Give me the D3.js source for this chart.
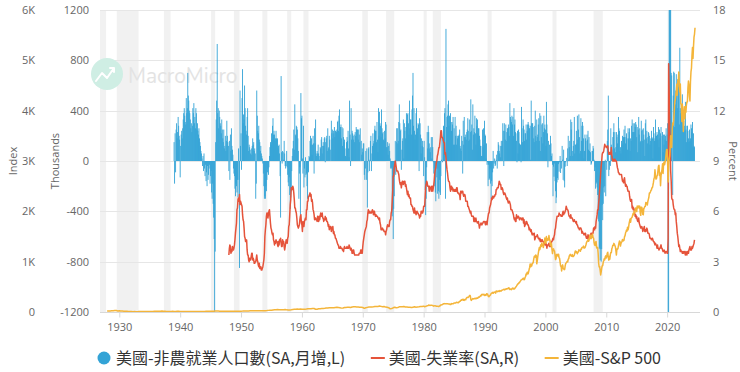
<!DOCTYPE html>
<html><head><meta charset="utf-8">
<script src="https://cdn.jsdelivr.net/npm/d3@7"></script>
<style>body{margin:0;background:#fff}svg{display:block}</style>
</head><body><svg id="c" width="740" height="372"></svg>
<script>
// ---------------- DATA ----------------
const payrollStart = 1939; // monthly, thousands, SA, month-over-month change
const payrollChange = [
150,-180,220,-90,250,300,180,230,350,280,200,170,
-130,120,210,240,180,260,330,380,420,360,310,290,
500,380,420,700,520,480,400,380,330,260,300,230,
280,420,380,460,300,350,260,420,380,250,300,240,
210,260,180,150,120,80,60,20,-40,40,-80,60,
-60,-120,-30,-160,-90,-200,-40,-150,-110,-60,-30,-180,
-120,-80,-250,-300,-180,-340,-450,-620,-1959,-720,150,330,
480,930,380,420,260,400,350,300,280,220,330,250,
180,150,250,100,120,200,80,160,320,200,150,120,
-80,160,-150,210,80,260,120,90,50,-60,-100,-120,
-220,-280,-180,-200,-250,-150,-290,100,-150,-850,560,120,
220,-70,500,730,300,370,330,600,420,280,240,210,
350,420,200,80,130,110,90,60,50,100,120,180,
130,150,80,100,60,-300,-180,560,360,240,220,280,
170,150,80,120,60,40,20,-20,-100,-200,-300,-280,
-300,-200,-240,-150,-90,-60,-110,-50,40,110,150,130,
220,170,280,340,210,240,210,160,180,240,180,170,
180,100,120,130,60,-120,-450,675,70,-20,80,70,
10,160,60,-40,-60,-40,80,-50,-110,-170,-200,-130,
-270,-380,-290,-240,-80,40,100,160,250,90,450,210,
200,280,270,250,180,80,-300,-100,-50,-450,540,340,
360,20,-100,280,-210,-60,-130,30,-110,-100,-200,-300,
-80,-90,40,30,160,200,130,180,50,130,200,140,
-100,260,140,330,60,40,80,60,130,60,40,10,
110,100,170,190,60,120,150,120,180,190,-10,150,
180,200,80,260,100,110,200,170,90,0,320,220,
250,180,240,220,270,190,240,240,230,250,310,320,
240,360,410,230,270,290,180,270,120,260,190,150,
170,100,40,30,150,190,160,240,100,30,480,210,
-40,420,170,240,220,200,170,210,150,230,200,270,
250,250,250,170,250,210,150,260,0,160,50,100,
70,140,140,-110,-150,-60,80,-150,100,-370,-90,100,
110,-80,10,160,200,-80,60,120,220,140,160,250,
280,240,240,150,310,170,70,420,200,390,300,280,
190,410,260,220,230,170,160,240,180,310,290,110,
110,150,50,120,140,80,20,-60,-50,-60,-440,-390,
-620,-380,-280,-100,160,-110,150,260,260,140,160,310,
450,300,240,250,-70,90,160,180,330,20,300,240,
180,270,380,320,370,380,300,210,480,260,330,330,
210,410,520,700,280,420,240,170,210,380,420,230,
260,300,290,-80,340,300,210,60,180,120,160,110,
-120,160,30,-230,-430,-300,-50,230,100,280,230,140,
100,70,110,190,20,190,110,-10,-100,-60,-200,-250,
-320,-20,-130,-260,-60,-240,-300,-150,-250,-270,-120,10,
200,-10,170,280,270,380,420,-300,1050,270,350,360,
450,480,280,360,350,380,310,240,310,290,350,130,
260,130,350,200,280,130,200,180,200,200,210,250,
120,100,80,200,160,-100,320,130,350,190,190,210,
170,230,250,340,240,160,330,170,230,490,240,290,
90,450,210,260,230,360,220,130,340,280,330,220,
260,260,200,170,120,120,40,40,250,110,260,130,
320,210,200,20,140,-30,-10,-200,-30,-150,-140,-60,
-180,-300,-160,-200,-90,80,-60,-20,20,-40,-30,10,
50,-60,80,150,130,80,60,120,30,160,120,160,
300,240,-40,300,240,170,290,160,230,260,260,290,
270,200,460,350,330,310,360,290,350,200,420,290,
330,230,220,160,-10,240,60,250,230,140,130,130,
-10,430,260,150,330,280,250,160,220,220,290,170,
240,290,310,290,260,260,280,10,480,300,300,300,
270,180,150,280,400,200,160,330,190,210,290,340,
160,380,80,360,190,290,300,140,230,360,260,290,
250,120,470,290,220,-50,160,0,130,0,200,140,
40,60,-30,-280,-45,-125,-20,-160,-240,-335,-290,-170,
-135,-150,-25,-85,-10,40,-95,-10,-60,120,10,-150,
90,-160,-210,-45,-10,0,25,-40,100,200,10,110,
160,40,330,250,310,80,40,120,160,350,60,130,
130,240,140,360,170,250,370,190,60,80,340,160,
280,310,280,180,20,80,210,180,160,0,210,170,
240,90,190,80,140,70,-30,-20,80,80,120,100,
10,-80,-50,-220,-180,-170,-210,-270,-460,-480,-700,-690,
-790,-700,-800,-700,-350,-470,-340,-210,-250,-200,10,-280,
-10,-70,160,250,520,-120,-70,-30,-40,260,130,90,
40,190,230,300,100,230,70,110,230,190,140,210,
350,260,240,80,110,60,160,130,200,140,190,250,
190,280,140,190,220,180,90,260,180,230,260,80,
180,160,280,330,230,300,230,230,300,270,310,290,
190,270,70,250,350,210,260,150,160,320,240,250,
160,260,210,170,40,300,330,180,240,140,190,230,
220,200,130,160,180,240,190,180,20,270,220,160,
180,330,200,200,230,210,170,270,110,250,180,220,
270,0,200,230,70,210,130,210,170,200,260,160,
210,300,-1400,-20500,2800,4800,1700,1600,700,680,260,-270,
520,710,700,270,450,560,690,520,420,650,650,590,
290,900,420,380,340,370,530,330,330,320,280,240,
470,250,150,280,280,240,180,150,250,160,180,290,
260,230,310,110,220,120,110
];

const unrateStart = 1948; // monthly, percent, SA
const unemploymentRate = [
3.4,3.8,4.0,3.9,3.5,3.6,3.6,3.9,3.8,3.7,3.8,4.0,
4.3,4.7,5.0,5.3,6.1,6.2,6.7,6.8,6.6,7.0,6.4,6.6,
6.5,6.4,6.3,5.8,5.5,5.4,5.0,4.5,4.4,4.2,4.2,4.3,
3.7,3.4,3.4,3.1,3.0,3.2,3.1,3.1,3.3,3.5,3.5,3.1,
3.2,3.1,2.9,2.9,3.0,3.0,3.2,3.4,3.1,3.0,2.8,2.7,
2.9,2.6,2.6,2.7,2.5,2.5,2.6,2.7,2.9,3.1,3.5,4.5,
4.9,5.2,5.7,5.9,5.9,5.6,5.8,6.0,6.1,5.7,5.3,5.0,
4.9,4.7,4.6,4.7,4.3,4.2,4.0,4.2,4.1,4.3,4.2,4.2,
4.0,3.9,4.2,4.0,4.3,4.3,4.4,4.1,3.9,3.9,4.3,4.2,
4.2,3.9,3.7,3.9,4.1,4.3,4.2,4.1,4.4,4.5,5.1,5.2,
5.8,6.4,6.7,7.4,7.4,7.3,7.5,7.4,7.1,6.7,6.2,6.2,
6.0,5.9,5.6,5.2,5.1,5.0,5.1,5.2,5.5,5.7,5.8,5.3,
5.2,4.8,5.4,5.2,5.1,5.4,5.5,5.6,5.5,6.1,6.1,6.6,
6.6,6.9,6.9,7.0,7.1,6.9,7.0,6.6,6.7,6.5,6.1,6.0,
5.8,5.5,5.6,5.6,5.5,5.5,5.4,5.7,5.6,5.4,5.7,5.5,
5.7,5.9,5.7,5.7,5.9,5.6,5.6,5.4,5.5,5.5,5.7,5.5,
5.6,5.4,5.4,5.3,5.1,5.2,4.9,5.0,5.1,5.1,4.8,5.0,
4.9,5.1,4.7,4.8,4.6,4.6,4.4,4.4,4.3,4.2,4.1,4.0,
4.0,3.8,3.8,3.8,3.9,3.8,3.8,3.8,3.7,3.7,3.6,3.8,
3.9,3.8,3.8,3.8,3.8,3.9,3.8,3.8,3.8,4.0,3.9,3.8,
3.7,3.8,3.7,3.5,3.5,3.7,3.7,3.5,3.4,3.4,3.4,3.4,
3.4,3.4,3.4,3.4,3.4,3.5,3.5,3.5,3.7,3.7,3.5,3.5,
3.9,4.2,4.4,4.6,4.8,4.9,5.0,5.1,5.4,5.5,5.9,6.1,
5.9,5.9,6.0,5.9,5.9,5.9,6.0,6.1,6.0,5.8,6.0,6.0,
5.8,5.7,5.8,5.7,5.7,5.7,5.6,5.6,5.5,5.6,5.3,5.2,
4.9,5.0,4.9,5.0,4.9,4.9,4.8,4.8,4.8,4.6,4.8,4.9,
5.1,5.2,5.1,5.1,5.1,5.4,5.5,5.5,5.9,6.0,6.6,7.2,
8.1,8.1,8.6,8.8,9.0,8.8,8.6,8.4,8.4,8.4,8.3,8.2,
7.9,7.7,7.6,7.7,7.4,7.6,7.8,7.8,7.6,7.7,7.8,7.8,
7.5,7.6,7.4,7.2,7.0,7.2,6.9,7.0,6.8,6.8,6.8,6.4,
6.4,6.3,6.3,6.1,6.0,5.9,6.2,5.9,6.0,5.8,5.9,6.0,
5.9,5.9,5.8,5.8,5.6,5.7,5.7,6.0,5.9,6.0,5.9,6.0,
6.3,6.3,6.3,6.9,7.5,7.6,7.8,7.7,7.5,7.5,7.5,7.2,
7.5,7.4,7.4,7.2,7.5,7.5,7.2,7.4,7.6,7.9,8.3,8.5,
8.6,8.9,9.0,9.3,9.4,9.6,9.8,9.8,10.1,10.4,10.8,10.8,
10.4,10.4,10.3,10.2,10.1,10.1,9.4,9.5,9.2,8.8,8.5,8.3,
8.0,7.8,7.8,7.7,7.4,7.2,7.5,7.5,7.3,7.4,7.2,7.3,
7.3,7.2,7.2,7.3,7.2,7.4,7.4,7.1,7.1,7.1,7.0,7.0,
6.7,7.2,7.2,7.1,7.2,7.2,7.0,6.9,7.0,7.0,6.9,6.6,
6.6,6.6,6.6,6.3,6.3,6.2,6.1,6.0,5.9,6.0,5.8,5.7,
5.7,5.7,5.7,5.4,5.6,5.4,5.4,5.6,5.4,5.4,5.3,5.3,
5.4,5.2,5.0,5.2,5.2,5.3,5.2,5.2,5.3,5.3,5.4,5.4,
5.4,5.3,5.2,5.4,5.4,5.2,5.5,5.7,5.9,5.9,6.2,6.3,
6.4,6.6,6.8,6.7,6.9,6.9,6.8,6.9,6.9,7.0,7.0,7.3,
7.3,7.4,7.4,7.4,7.6,7.8,7.7,7.6,7.6,7.3,7.4,7.4,
7.3,7.1,7.0,7.1,7.1,7.0,6.9,6.8,6.7,6.8,6.6,6.5,
6.6,6.6,6.5,6.4,6.1,6.1,6.1,6.0,5.9,5.8,5.6,5.5,
5.6,5.4,5.4,5.8,5.6,5.6,5.7,5.7,5.6,5.5,5.6,5.6,
5.6,5.5,5.5,5.6,5.6,5.3,5.5,5.1,5.2,5.2,5.4,5.4,
5.3,5.2,5.2,5.1,4.9,5.0,4.9,4.8,4.9,4.7,4.6,4.7,
4.6,4.6,4.7,4.3,4.4,4.5,4.5,4.5,4.6,4.5,4.4,4.4,
4.3,4.4,4.2,4.3,4.2,4.3,4.3,4.2,4.2,4.1,4.1,4.0,
4.0,4.1,4.0,3.8,4.0,4.0,4.0,4.1,3.9,3.9,3.9,3.9,
4.2,4.2,4.3,4.4,4.3,4.5,4.6,4.9,5.0,5.3,5.5,5.7,
5.7,5.7,5.7,5.9,5.8,5.8,5.8,5.7,5.7,5.7,5.9,6.0,
5.8,5.9,5.9,6.0,6.1,6.3,6.2,6.1,6.1,6.0,5.8,5.7,
5.7,5.6,5.8,5.6,5.6,5.6,5.5,5.4,5.4,5.5,5.4,5.4,
5.3,5.4,5.2,5.2,5.1,5.0,5.0,4.9,5.0,5.0,5.0,4.9,
4.7,4.8,4.7,4.7,4.6,4.6,4.7,4.7,4.5,4.4,4.5,4.4,
4.6,4.5,4.4,4.5,4.4,4.6,4.7,4.6,4.7,4.7,4.7,5.0,
5.0,4.9,5.1,5.0,5.4,5.6,5.8,6.1,6.1,6.5,6.8,7.3,
7.8,8.3,8.7,9.0,9.4,9.5,9.5,9.6,9.8,10.0,9.9,9.9,
9.8,9.8,9.9,9.9,9.6,9.4,9.4,9.5,9.5,9.4,9.8,9.3,
9.1,9.0,9.0,9.1,9.0,9.1,9.0,9.0,9.0,8.8,8.6,8.5,
8.3,8.3,8.2,8.2,8.2,8.2,8.2,8.0,7.8,7.8,7.7,7.9,
8.0,7.7,7.5,7.6,7.5,7.5,7.3,7.2,7.2,7.2,6.9,6.7,
6.6,6.7,6.7,6.2,6.3,6.1,6.2,6.1,5.9,5.7,5.8,5.6,
5.7,5.5,5.4,5.4,5.6,5.3,5.2,5.1,5.0,5.0,5.1,5.0,
4.8,4.9,5.0,5.1,4.8,4.9,4.8,4.9,5.0,4.9,4.7,4.7,
4.7,4.6,4.4,4.4,4.4,4.3,4.3,4.4,4.3,4.2,4.2,4.1,
4.0,4.1,4.0,4.0,3.8,4.0,3.8,3.8,3.7,3.8,3.8,3.9,
4.0,3.8,3.8,3.7,3.6,3.6,3.7,3.6,3.5,3.6,3.6,3.6,
3.5,3.5,4.4,14.8,13.2,11.0,10.2,8.4,7.8,6.8,6.7,6.7,
6.4,6.2,6.1,6.1,5.8,5.9,5.4,5.1,4.7,4.5,4.2,3.9,
4.0,3.8,3.6,3.7,3.6,3.6,3.5,3.6,3.5,3.6,3.6,3.5,
3.4,3.6,3.5,3.4,3.6,3.6,3.5,3.7,3.8,3.9,3.7,3.7,
3.7,3.9,3.8,3.9,4.0,4.1,4.3
];

const spxQuarterlyStart = 1928; // quarterly index level 1928-1979
const spxQuarterly = [
19.3,20.0,21.9,24.4, 25.0,29.0,31.0,21.5, 25.0,21.0,19.0,15.3, 17.0,14.8,9.7,8.1,
8.3,4.4,8.1,6.9, 5.9,10.9,9.8,10.1, 10.7,9.9,9.1,9.5, 8.4,10.2,11.6,13.4,
15.0,14.7,16.1,17.2, 18.1,14.9,13.8,10.6, 9.0,11.6,12.2,13.2, 11.0,10.9,13.0,12.5,
12.2,9.9,10.7,10.6, 9.9,10.2,10.0,8.7, 8.2,8.4,8.9,9.8, 11.6,12.4,12.0,11.5,
12.2,13.3,12.8,13.3, 14.3,15.1,16.4,17.4, 17.8,18.4,14.9,15.3, 15.2,15.0,15.1,15.3,
15.1,16.7,15.5,15.2, 15.1,14.2,15.5,16.8, 17.3,17.7,19.5,20.4, 21.5,21.0,23.3,23.8,
24.4,25.0,25.0,26.6, 25.3,24.1,23.4,24.8, 26.9,29.2,32.3,36.0, 36.6,41.0,43.7,45.5,
48.5,46.9,45.4,46.7, 44.1,47.4,42.4,40.0, 42.1,45.2,50.1,55.2, 55.4,58.5,56.9,59.9,
55.3,56.9,53.5,58.1, 65.1,64.6,66.7,71.6, 69.6,54.8,56.3,63.1, 66.6,69.4,71.7,75.0,
79.0,81.7,84.2,84.8, 86.2,84.1,90.0,92.4, 89.2,84.7,77.0,80.3, 90.2,90.6,96.7,96.5,
90.2,99.6,102.7,103.9, 101.5,97.7,93.1,92.1, 89.6,72.7,84.3,92.2, 100.3,99.0,98.3,102.1,
107.2,107.1,110.6,118.1, 111.5,104.3,108.4,97.6, 94.0,86.0,63.5,68.6, 83.4,95.2,83.9,90.2,
102.8,104.3,105.2,107.5, 98.4,100.5,96.5,95.1, 89.2,95.5,102.5,96.1, 101.6,102.9,109.3,107.9
];

const spxMonthlyStart = 1980; // monthly index level 1980-2024
const spxMonthly = [
114.2,113.7,102.1,106.3,111.2,114.2,121.7,122.4,125.5,127.5,140.5,135.8,
129.6,131.3,136.0,132.8,132.6,131.2,130.9,122.8,116.2,121.9,126.4,122.6,
120.4,113.1,112.0,116.4,111.9,109.6,107.1,119.5,120.4,133.7,138.5,140.6,
145.3,148.1,153.0,164.4,162.4,168.1,162.6,164.4,166.1,163.6,166.4,164.9,
163.4,157.1,159.2,160.1,150.6,153.2,150.7,166.7,166.1,166.1,163.6,167.2,
179.6,181.2,180.7,179.8,189.6,191.9,190.9,188.6,182.1,189.8,202.2,211.3,
211.8,226.9,238.9,235.5,247.4,250.8,236.1,252.9,231.3,244.0,249.2,242.2,
274.1,284.2,291.7,288.4,290.1,304.0,318.7,329.8,321.8,251.8,230.3,247.1,
257.1,267.8,258.9,261.3,262.2,273.5,272.0,261.5,271.9,279.0,273.7,277.7,
297.5,288.9,294.9,309.6,320.5,318.0,346.1,351.5,349.2,340.4,346.0,353.4,
329.1,331.9,339.9,330.8,361.2,358.0,356.2,322.6,306.1,304.0,322.2,330.2,
343.9,367.1,375.2,375.3,389.8,371.2,387.8,395.4,387.9,392.5,375.2,417.1,
408.8,412.7,403.7,415.0,415.4,408.1,424.2,414.0,417.8,418.7,431.4,435.7,
438.8,443.4,451.7,440.2,450.2,450.5,448.1,463.6,458.9,467.8,461.8,466.5,
481.6,467.1,445.8,450.9,456.5,444.3,458.3,475.5,462.7,472.4,453.7,459.3,
470.4,487.4,500.7,514.7,533.4,544.8,562.1,561.9,584.4,581.5,605.4,615.9,
636.0,640.4,645.5,654.2,669.1,670.6,640.0,652.0,687.3,705.3,757.0,740.7,
786.2,790.8,757.1,801.3,848.3,885.1,954.3,899.5,947.3,914.6,955.4,970.4,
980.3,1049.3,1101.8,1111.8,1090.8,1133.8,1120.7,957.3,1017.0,1098.7,1163.6,1229.2,
1279.6,1238.3,1286.4,1335.2,1301.8,1372.7,1328.7,1320.4,1282.7,1362.9,1388.9,1469.3,
1394.5,1366.4,1498.6,1452.4,1420.6,1454.6,1430.8,1517.7,1436.5,1429.4,1315.2,1320.3,
1366.0,1239.9,1160.3,1249.5,1255.8,1224.4,1211.2,1133.6,1040.9,1059.8,1139.5,1148.1,
1130.2,1106.7,1147.4,1076.9,1067.1,989.8,911.6,916.1,815.3,885.8,936.3,879.8,
855.7,841.2,848.2,916.9,963.6,974.5,990.3,1008.0,996.0,1050.7,1058.2,1111.9,
1131.1,1144.9,1126.2,1107.3,1120.7,1140.8,1101.7,1104.2,1114.6,1130.2,1173.8,1211.9,
1181.3,1203.6,1180.6,1156.9,1191.5,1191.3,1234.2,1220.3,1228.8,1207.0,1249.5,1248.3,
1280.1,1280.7,1294.8,1310.6,1270.1,1270.2,1276.7,1303.8,1335.9,1377.9,1400.6,1418.3,
1438.2,1406.8,1420.9,1482.4,1530.6,1503.4,1455.3,1474.0,1526.8,1549.4,1481.1,1468.4,
1378.6,1330.6,1322.7,1385.6,1400.4,1280.0,1267.4,1282.8,1166.4,968.8,896.2,903.3,
825.9,735.1,797.9,872.8,919.1,919.3,987.5,1020.6,1057.1,1036.2,1095.6,1115.1,
1073.9,1104.5,1169.4,1186.7,1089.4,1030.7,1101.6,1049.3,1141.2,1183.3,1180.6,1257.6,
1286.1,1327.2,1325.8,1363.6,1345.2,1320.6,1292.3,1218.9,1131.4,1253.3,1247.0,1257.6,
1312.4,1365.7,1408.5,1397.9,1310.3,1362.2,1379.3,1406.6,1440.7,1412.2,1416.2,1426.2,
1498.1,1514.7,1569.2,1597.6,1630.7,1606.3,1685.7,1633.0,1681.6,1756.5,1805.8,1848.4,
1782.6,1859.5,1872.3,1884.0,1923.6,1960.2,1930.7,2003.4,1972.3,2018.1,2067.6,2058.9,
1995.0,2104.5,2067.9,2085.5,2107.4,2063.1,2103.8,1972.2,1920.0,2079.4,2080.4,2043.9,
1940.2,1932.2,2059.7,2065.3,2097.0,2098.9,2173.6,2171.0,2168.3,2126.2,2198.8,2238.8,
2278.9,2363.6,2362.7,2384.2,2411.8,2423.4,2470.3,2471.7,2519.4,2575.3,2647.6,2673.6,
2823.8,2713.8,2640.9,2648.1,2705.3,2718.4,2816.3,2901.5,2914.0,2711.7,2760.2,2506.9,
2704.1,2784.5,2834.4,2945.8,2752.1,2941.8,2980.4,2926.5,2976.7,3037.6,3141.0,3230.8,
3225.5,2954.2,2584.6,2912.4,3044.3,3100.3,3271.1,3500.3,3363.0,3270.0,3621.6,3756.1,
3714.2,3811.2,3972.9,4181.2,4204.1,4297.5,4395.3,4522.7,4307.5,4605.4,4567.0,4766.2,
4515.6,4373.9,4530.4,4131.9,4132.2,3785.4,4130.3,3955.0,3585.6,3872.0,4080.1,3839.5,
4076.6,3970.2,4109.3,4169.5,4179.8,4450.4,4589.0,4507.7,4288.1,4193.8,4567.8,4769.8,
4845.7,5096.3,5254.4,5035.7,5277.5,5460.5,5522.3,5648.4
];

// NBER recessions [start, end] in decimal years
const recessionStart = [1926.75,1929.58,1937.33,1945.08,1948.83,1953.5,1957.58,1960.25,1969.92,1973.83,1980.0,1981.5,1990.5,2001.17,2007.92,2020.08];
const recessionEnd   = [1927.83,1933.17,1938.42,1945.75,1949.75,1954.33,1958.25,1961.08,1970.83,1975.17,1980.5,1982.83,1991.17,2001.83,2009.42,2020.25];

const xTicks = [1930,1940,1950,1960,1970,1980,1990,2000,2010,2020];
const thousandsTicks = [-1200,-800,-400,0,400,800,1200];
const indexTicks = [0,1000,2000,3000,4000,5000,6000];
const percentTicks = [0,3,6,9,12,15,18];
const legendLabels = ["美國-非農就業人口數(SA,月增,L)","美國-失業率(SA,R)","美國-S&P 500"];

// ---------------- CHART ----------------
const colors = {blue:"#33a3d6", red:"#e5533a", yellow:"#f4b53a"};
const svg = d3.select("#c");
const P = {l:100, r:700, t:10, b:312};
const x = d3.scaleLinear().domain([1926.83, 2025.4]).range([P.l, P.r]);
const yK = d3.scaleLinear().domain([-1200,1200]).range([P.b, P.t]);
const yIdx = d3.scaleLinear().domain([0,6000]).range([P.b, P.t]);
const yPct = d3.scaleLinear().domain([0,18]).range([P.b, P.t]);
const font = "'Open Sans','Noto Sans',sans-serif";

svg.append("defs").append("clipPath").attr("id","clip")
  .append("rect").attr("x",P.l).attr("y",P.t).attr("width",P.r-P.l).attr("height",P.b-P.t);

// recession bands
const rec = recessionStart.map((s,i)=>[s, recessionEnd[i]]);
svg.append("g").attr("clip-path","url(#clip)").selectAll("rect").data(rec).join("rect")
  .attr("x", d=>x(d[0])).attr("width", d=>x(d[1])-x(d[0]))
  .attr("y", P.t).attr("height", P.b-P.t).attr("fill","#f1f1f1");

// gridlines
svg.append("g").selectAll("line").data(thousandsTicks.slice(1)).join("line")
  .attr("x1",P.l).attr("x2",P.r)
  .attr("y1",d=>Math.round(yK(d))+0.5).attr("y2",d=>Math.round(yK(d))+0.5)
  .attr("stroke","#e6e6e6").attr("stroke-width",1);

// watermark
const wm = svg.append("g");
wm.append("circle").attr("cx",107).attr("cy",74).attr("r",16).attr("fill","#cfeee4");
wm.append("path").attr("d","M96,81 L102,73 L107,78 L114,68 M110,68 L114,68 L114,72")
  .attr("fill","none").attr("stroke","#ffffff").attr("stroke-width",2).attr("stroke-linecap","round").attr("stroke-linejoin","round");
wm.append("text").attr("x",128).attr("y",83).text("MacroMicro")
  .attr("font-family","'Nunito','Lato','Open Sans',sans-serif").attr("font-size",21)
  .attr("fill","#e3e3e3");

// x axis
const xAxis = svg.append("g").attr("transform",`translate(0,${P.b+0.5})`)
  .call(d3.axisBottom(x).tickValues(xTicks).tickFormat(d=>String(d)).tickSize(5).tickPadding(6).tickSizeOuter(0));
xAxis.select(".domain").attr("stroke","#d8d8d8").attr("d",`M${P.l},0H${P.r}`);
xAxis.selectAll(".tick line").attr("stroke","#d8d8d8");
xAxis.selectAll("text").attr("fill","#666").attr("font-size",11).attr("font-family",font);

// payroll bars
const payroll = payrollChange.map((v,i)=>({t: payrollStart + i/12, v}));
svg.append("g").attr("clip-path","url(#clip)").selectAll("rect").data(payroll).join("rect")
  .attr("x", d=>x(d.t)-0.45).attr("width", 0.9)
  .attr("y", d=>yK(Math.max(0,d.v)))
  .attr("height", d=>Math.abs(yK(d.v)-yK(0)))
  .attr("fill", colors.blue);

// unemployment line
const unr = unemploymentRate.map((v,i)=>({t: unrateStart + i/12, v}));
svg.append("path").datum(unr).attr("clip-path","url(#clip)")
  .attr("fill","none").attr("stroke",colors.red).attr("stroke-width",1.5).attr("stroke-linejoin","round")
  .attr("d", d3.line().x(d=>x(d.t)).y(d=>yPct(d.v)));

// S&P line
const spx = spxQuarterly.map((v,i)=>({t: spxQuarterlyStart + i/4, v}))
  .concat(spxMonthly.map((v,i)=>({t: spxMonthlyStart + i/12, v})));
svg.append("path").datum(spx).attr("clip-path","url(#clip)")
  .attr("fill","none").attr("stroke",colors.yellow).attr("stroke-width",1.5).attr("stroke-linejoin","round")
  .attr("d", d3.line().x(d=>x(d.t)).y(d=>yIdx(d.v)));

// y axes
function styleAxis(g){
  g.select(".domain").remove();
  g.selectAll(".tick line").remove();
  g.selectAll("text").attr("fill","#666").attr("font-size",11).attr("font-family",font);
}
svg.append("g").attr("transform","translate(35,0)")
  .call(d3.axisLeft(yIdx).tickValues(indexTicks).tickFormat(d=>d===0?"0":(d/1000)+"K").tickSize(0).tickPadding(0))
  .call(styleAxis);
svg.append("g").attr("transform","translate(89,0)")
  .call(d3.axisLeft(yK).tickValues(thousandsTicks).tickFormat(d=>String(d)).tickSize(0).tickPadding(0))
  .call(styleAxis);
svg.append("g").attr("transform","translate(713,0)")
  .call(d3.axisRight(yPct).tickValues(percentTicks).tickFormat(d=>String(d)).tickSize(0).tickPadding(0))
  .call(styleAxis);

// axis titles
function title(txt, xx, rot){
  svg.append("text").attr("transform",`translate(${xx},161) rotate(${rot})`)
    .attr("text-anchor","middle").attr("fill","#666").attr("font-size",11).attr("font-family",font).text(txt);
}
title("Index", 17, -90);
title("Thousands", 59, -90);
title("Percent", 729, 90);

// legend
const lg = svg.append("g").attr("font-family","'Noto Sans CJK TC','Open Sans',sans-serif").attr("font-size",16);
const items = legendLabels.map((t,i)=>({t, c:[colors.blue,colors.red,colors.yellow][i], i}));
const ig = lg.selectAll("g").data(items).join("g");
ig.each(function(d){
  const g = d3.select(this);
  if(d.i===0){
    g.append("circle").attr("cx",6).attr("cy",0).attr("r",6.5).attr("fill",d.c);
  } else {
    g.append("line").attr("x1",0).attr("x2",14).attr("y1",0).attr("y2",0).attr("stroke",d.c).attr("stroke-width",2);
  }
  const tx = g.append("text").attr("x",18).attr("y",6).attr("fill","#333").text(d.t);
  d.w = 18 + tx.node().getComputedTextLength();
});
const legL = 98, legR = 661;
const gap = Math.max(16, (legR - legL - d3.sum(items,d=>d.w))/2);
let start = legL;
ig.attr("transform", d=>{ const tr = `translate(${start},358)`; start += d.w + gap; return tr; });
</script>
</body></html>
